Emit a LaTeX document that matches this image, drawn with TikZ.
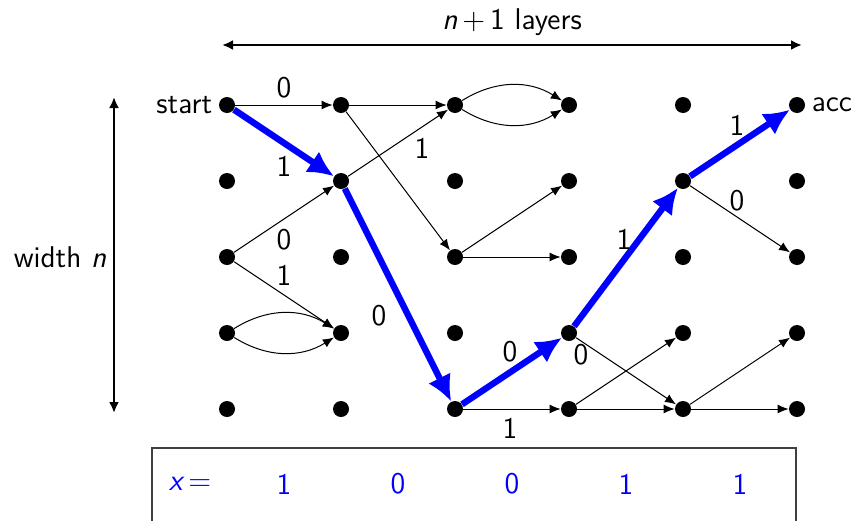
\documentclass[tikz,border=0pt]{standalone}
\usetikzlibrary{arrows.meta}
\begin{document}
\begin{tikzpicture}[x=0.5pt,y=-0.5pt,
  every node/.style={font=\sffamily\fontsize{15}{18}\selectfont},
  dot/.style={circle,fill=black,inner sep=0pt,minimum size=8pt},
  blkedge/.style={draw=black,line width=0.5pt,-{Latex[length=5.5pt,width=4.5pt]}},
  bluepath/.style={draw=blue,line width=3.2pt,-{Latex[length=13pt,width=12.5pt]}},
  lbl/.style={inner sep=1pt},
  dimarrow/.style={draw=black,line width=1.1pt,{Latex[length=5.5pt,width=5pt]}-{Latex[length=5.5pt,width=5pt]}},
  xlbl/.style={text=blue,inner sep=1pt}]
\useasboundingbox (0,0) rectangle (855,520);
% grid of dots
\foreach \i in {0,...,5}{
  \foreach \j in {0,...,4}{
    \node[dot] (d\i\j) at ({227+114*\i},{105+76*\j}) {};
  }
}
\node[anchor=east,inner sep=3pt] (start) at (d00.west) {start};
\node[anchor=west,inner sep=3pt] (acc) at (d50.east) {acc};
% black edges
\draw[blkedge] (d00) -- (d10);
\draw[blkedge] (d10) -- (d20);
\draw[blkedge] (d10) -- (d22);
\draw[blkedge] (d11) -- (d20);
\draw[blkedge] (d02) -- (d11);
\draw[blkedge] (d02) -- (d13);
\draw[blkedge] (d03) to[bend left=32] (d13);
\draw[blkedge] (d03) to[bend right=32] (d13);
\draw[blkedge] (d20) to[bend left=32] (d30);
\draw[blkedge] (d20) to[bend right=32] (d30);
\draw[blkedge] (d22) -- (d31);
\draw[blkedge] (d22) -- (d32);
\draw[blkedge] (d24) -- (d34);
\draw[blkedge] (d33) -- (d44);
\draw[blkedge] (d34) -- (d43);
\draw[blkedge] (d34) -- (d44);
\draw[blkedge] (d41) -- (d52);
\draw[blkedge] (d44) -- (d53);
\draw[blkedge] (d44) -- (d54);
% blue path
\draw[bluepath] (d00) -- (d11);
\draw[bluepath] (d11) -- (d24);
\draw[bluepath] (d24) -- (d33);
\draw[bluepath] (d33) -- (d41);
\draw[bluepath] (d41) -- (d50);
% labels
\node[lbl] (l1) at (284,88) {0};
\node[lbl] (l2) at (284,166) {1};
\node[lbl] (l3) at (422,148) {1};
\node[lbl] (l4) at (284,240) {0};
\node[lbl] (l5) at (284,275) {1};
\node[lbl] (l6) at (379,316) {0};
\node[lbl] (l7) at (510,352) {0};
\node[lbl] (l8) at (510,428) {1};
\node[lbl] (l9) at (581,355) {0};
\node[lbl] (l10) at (624,239) {1};
\node[lbl] (l11) at (737,125) {1};
\node[lbl] (l12) at (737,201) {0};
% dimension arrows
\coordinate (tl) at (222,45);
\coordinate (tr) at (802,45);
\draw[dimarrow] (tl) -- (tr);
\node (layers) at (512,22) {{\slshape n}\kern2.5pt+\kern2.5pt1 layers};
\coordinate (lt) at (114,97);
\coordinate (lb) at (114,413);
\draw[dimarrow] (lt) -- (lb);
\node (width) at (60,257) {width {\slshape n}};
% input box
\draw[draw=black!75,line width=0.6pt] (152,448) rectangle (796,540);
\node[xlbl] (xeq) at (190,484) {{\slshape x}\kern3pt=};
\foreach \i/\b in {0/1,1/0,2/0,3/1,4/1}{
  \node[xlbl] (b\i) at ({284+114*\i},484) {\b};
}
\end{tikzpicture}
\end{document}
